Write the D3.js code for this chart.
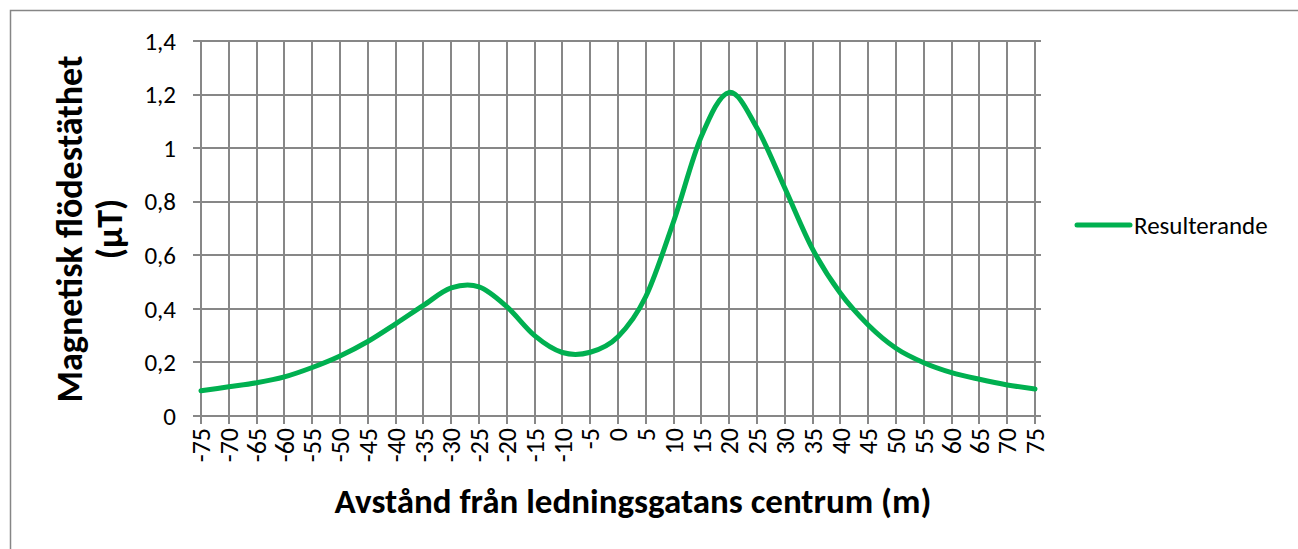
<!DOCTYPE html>
<meta charset="utf-8">
<title>Magnetisk flödestäthet</title>
<style>
  body { margin: 0; background: #fff; overflow: hidden; }
  svg { display: block; font-family: Carlito, Lato, "Open Sans", sans-serif; }
  .grid line { stroke: #878787; stroke-width: 1.6; shape-rendering: crispEdges; }
</style>
<body>
<script src="https://cdn.jsdelivr.net/npm/d3@7"></script>
<script>
  // distances (m) and resulting flux density (µT)
  var distances = [-75, -70, -65, -60, -55, -50, -45, -40, -35, -30, -25, -20, -15, -10, -5,
                   0, 5, 10, 15, 20, 25, 30, 35, 40, 45, 50, 55, 60, 65, 70, 75];
  var resulterande = [0.094, 0.109, 0.124, 0.146, 0.181, 0.224, 0.278, 0.344, 0.413, 0.478, 0.482,
                      0.408, 0.300, 0.237, 0.238, 0.296, 0.446, 0.726, 1.044, 1.208, 1.075, 0.851,
                      0.623, 0.458, 0.340, 0.253, 0.199, 0.162, 0.137, 0.116, 0.101];
  var yTicks = [0, 0.2, 0.4, 0.6, 0.8, 1, 1.2, 1.4];

  var width = 1298, height = 549;
  var plot = {left: 201, right: 1035, top: 41, bottom: 416};

  var svg = d3.select("body").append("svg")
      .attr("width", width)
      .attr("height", height);

  // chart border (runs off the right and bottom edges)
  svg.append("rect")
      .attr("x", 10.5).attr("y", 10.5)
      .attr("width", width + 20).attr("height", height + 20)
      .attr("fill", "none")
      .attr("stroke", "#868686")
      .attr("stroke-width", 1.5);

  var x = d3.scalePoint()
      .domain(distances)
      .range([plot.left, plot.right]);

  var y = d3.scaleLinear()
      .domain([0, 1.4])
      .range([plot.bottom, plot.top]);

  var comma = function(d) { return String(d).replace(".", ","); };

  // horizontal grid + y ticks
  var g = svg.append("g").attr("class", "grid");
  g.selectAll(".h").data(yTicks).enter().append("line")
      .attr("x1", plot.left - 8).attr("x2", plot.right + 6)
      .attr("y1", function(d) { return Math.round(y(d)); })
      .attr("y2", function(d) { return Math.round(y(d)); });

  // vertical grid + x ticks
  g.selectAll(".v").data(distances).enter().append("line")
      .attr("x1", function(d) { return Math.round(x(d)); })
      .attr("x2", function(d) { return Math.round(x(d)); })
      .attr("y1", plot.top)
      .attr("y2", plot.bottom + 8);

  // y tick labels
  svg.append("g").selectAll("text").data(yTicks).enter().append("text")
      .attr("x", 176)
      .attr("y", function(d) { return y(d); })
      .attr("dy", "0.35em")
      .attr("text-anchor", "end")
      .style("font-size", "25px")
      .text(comma);

  // x tick labels (rotated)
  svg.append("g").selectAll("text").data(distances).enter().append("text")
      .attr("transform", function(d) { return "translate(" + x(d) + ",428) rotate(-90)"; })
      .attr("dy", "0.35em")
      .attr("text-anchor", "end")
      .style("font-size", "26px")
      .text(function(d) { return d; });

  // data line
  var line = d3.line()
      .x(function(d, i) { return x(distances[i]); })
      .y(function(d) { return y(d); })
      .curve(d3.curveCatmullRom.alpha(0));

  svg.append("path")
      .datum(resulterande)
      .attr("d", line)
      .attr("fill", "none")
      .attr("stroke", "#00B050")
      .attr("stroke-width", 5)
      .attr("stroke-linecap", "round");

  // axis titles
  svg.append("text")
      .attr("x", 633).attr("y", 513)
      .attr("text-anchor", "middle")
      .style("font-size", "35px")
      .style("font-weight", "bold")
      .text("Avstånd från ledningsgatans centrum (m)");

  var yt = svg.append("text")
      .attr("transform", "translate(0,229) rotate(-90)")
      .attr("text-anchor", "middle")
      .style("font-size", "36px")
      .style("font-weight", "bold");
  yt.append("tspan").attr("x", 0).attr("y", 82).text("Magnetisk flödestäthet");
  yt.append("tspan").attr("x", 0).attr("y", 122).text("(µT)");

  // legend
  var legend = svg.append("g");
  legend.append("line")
      .attr("x1", 1077).attr("x2", 1130)
      .attr("y1", 225).attr("y2", 225)
      .attr("stroke", "#00B050")
      .attr("stroke-width", 5)
      .attr("stroke-linecap", "round");
  legend.append("text")
      .attr("x", 1134).attr("y", 225)
      .attr("dy", "0.35em")
      .style("font-size", "25px")
      .text("Resulterande");
</script>
</body>
